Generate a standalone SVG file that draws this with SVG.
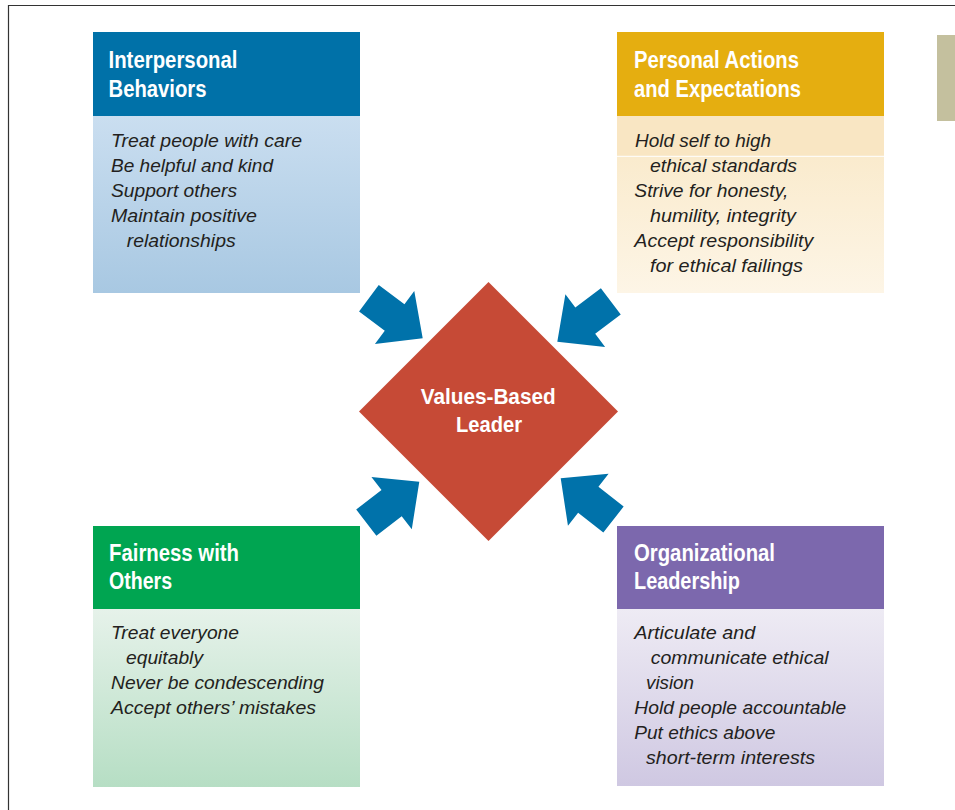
<svg xmlns="http://www.w3.org/2000/svg" width="955" height="810" viewBox="0 0 955 810">
<style>
.title{font-family:"Liberation Sans",Arial,sans-serif;font-weight:bold;font-size:23.5px;fill:#ffffff}
.ctitle{font-family:"Liberation Sans",Arial,sans-serif;font-weight:bold;font-size:22.5px;fill:#ffffff}
.body{font-family:"Liberation Sans",Arial,sans-serif;font-style:italic;font-size:19px;fill:#231f20}
.arrow{fill:#0072aa}
</style>
<defs>
<linearGradient id="gBlue" x1="0" y1="0" x2="0" y2="1"><stop offset="0" stop-color="#cadef0"/><stop offset="1" stop-color="#a8c8e2"/></linearGradient>
<linearGradient id="gOrange" x1="0" y1="0" x2="0" y2="1"><stop offset="0" stop-color="#f9e8c6"/><stop offset="1" stop-color="#fdf5e6"/></linearGradient>
<linearGradient id="gGreen" x1="0" y1="0" x2="0" y2="1"><stop offset="0" stop-color="#e6f2ea"/><stop offset="1" stop-color="#b6dec4"/></linearGradient>
<linearGradient id="gPurple" x1="0" y1="0" x2="0" y2="1"><stop offset="0" stop-color="#eeebf4"/><stop offset="1" stop-color="#cfc8e2"/></linearGradient>
<polygon id="arr" points="0,0 -35,-33 -35,-16.5 -67,-16.5 -67,16.5 -35,16.5 -35,33"/>
</defs>
<rect width="955" height="810" fill="#ffffff"/>
<path d="M8.5,810 V5.5 H955" fill="none" stroke="#333333" stroke-width="1.2"/>
<rect x="937" y="35" width="18" height="86" fill="#c4c09e"/>

<g id="interpersonal">
<rect x="93" y="32" width="267" height="84" fill="#0071a8"/>
<rect x="93" y="116" width="267" height="177" fill="url(#gBlue)"/>
<text class="title" x="108.5" y="68.3" textLength="129" lengthAdjust="spacingAndGlyphs">Interpersonal</text>
<text class="title" x="108.5" y="96.7" textLength="98" lengthAdjust="spacingAndGlyphs">Behaviors</text>
<text class="body" x="111" y="146.7" textLength="191" lengthAdjust="spacingAndGlyphs">Treat people with care</text>
<text class="body" x="111" y="171.7" textLength="162" lengthAdjust="spacingAndGlyphs">Be helpful and kind</text>
<text class="body" x="111" y="196.7" textLength="126" lengthAdjust="spacingAndGlyphs">Support others</text>
<text class="body" x="111" y="221.7" textLength="146" lengthAdjust="spacingAndGlyphs">Maintain positive</text>
<text class="body" x="126.7" y="246.7" textLength="109" lengthAdjust="spacingAndGlyphs">relationships</text>
</g>

<g id="personal">
<rect x="617" y="32" width="267" height="84" fill="#e5ae10"/>
<rect x="617" y="116" width="267" height="177" fill="url(#gOrange)"/>
<rect x="617" y="116" width="267" height="40" fill="#f9e6c3"/>
<line x1="617" y1="156.3" x2="884" y2="156.3" stroke="#ffffff" stroke-width="1"/>
<text class="title" x="634" y="68.3" textLength="165" lengthAdjust="spacingAndGlyphs">Personal Actions</text>
<text class="title" x="634" y="96.7" textLength="167" lengthAdjust="spacingAndGlyphs">and Expectations</text>
<text class="body" x="635" y="146.7" textLength="136" lengthAdjust="spacingAndGlyphs">Hold self to high</text>
<text class="body" x="650" y="172.3" textLength="147" lengthAdjust="spacingAndGlyphs">ethical standards</text>
<text class="body" x="634.3" y="197.3" textLength="154" lengthAdjust="spacingAndGlyphs">Strive for honesty,</text>
<text class="body" x="650" y="222.3" textLength="146" lengthAdjust="spacingAndGlyphs">humility, integrity</text>
<text class="body" x="634.3" y="247.3" textLength="179" lengthAdjust="spacingAndGlyphs">Accept responsibility</text>
<text class="body" x="650" y="272.3" textLength="153" lengthAdjust="spacingAndGlyphs">for ethical failings</text>
</g>

<g id="fairness">
<rect x="93" y="526" width="267" height="83" fill="#00a551"/>
<rect x="93" y="609" width="267" height="178" fill="url(#gGreen)"/>
<text class="title" x="109" y="560.7" textLength="130" lengthAdjust="spacingAndGlyphs">Fairness with</text>
<text class="title" x="109" y="589" textLength="63" lengthAdjust="spacingAndGlyphs">Others</text>
<text class="body" x="111" y="639.3" textLength="128" lengthAdjust="spacingAndGlyphs">Treat everyone</text>
<text class="body" x="126" y="664.3" textLength="77" lengthAdjust="spacingAndGlyphs">equitably</text>
<text class="body" x="111" y="689.3" textLength="213" lengthAdjust="spacingAndGlyphs">Never be condescending</text>
<text class="body" x="111" y="714.3" textLength="205" lengthAdjust="spacingAndGlyphs">Accept others’ mistakes</text>
</g>

<g id="organizational">
<rect x="617" y="526" width="267" height="83" fill="#7c68ad"/>
<rect x="617" y="609" width="267" height="177" fill="url(#gPurple)"/>
<text class="title" x="634" y="560.7" textLength="141" lengthAdjust="spacingAndGlyphs">Organizational</text>
<text class="title" x="634" y="589" textLength="106" lengthAdjust="spacingAndGlyphs">Leadership</text>
<text class="body" x="634.3" y="639.3" textLength="121" lengthAdjust="spacingAndGlyphs">Articulate and</text>
<text class="body" x="650.7" y="664.3" textLength="178" lengthAdjust="spacingAndGlyphs">communicate ethical</text>
<text class="body" x="646" y="689.3" textLength="48" lengthAdjust="spacingAndGlyphs">vision</text>
<text class="body" x="634.3" y="714.3" textLength="212" lengthAdjust="spacingAndGlyphs">Hold people accountable</text>
<text class="body" x="634.3" y="739.3" textLength="141" lengthAdjust="spacingAndGlyphs">Put ethics above</text>
<text class="body" x="646" y="764.3" textLength="169" lengthAdjust="spacingAndGlyphs">short-term interests</text>
</g>

<g id="center">
<polygon points="488.5,282 618,411.5 488.5,541 359,411.5" fill="#c64a36"/>
<text class="ctitle" x="420.7" y="404.3" textLength="135" lengthAdjust="spacingAndGlyphs">Values-Based</text>
<text class="ctitle" x="456" y="432.3" textLength="66" lengthAdjust="spacingAndGlyphs">Leader</text>
</g>

<g id="connectors" class="arrow">
<use href="#arr" transform="translate(422.7,338.3) rotate(36.6)"/>
<use href="#arr" transform="translate(557.3,341.7) rotate(143)"/>
<use href="#arr" transform="translate(419.3,481.7) rotate(-37.7)"/>
<use href="#arr" transform="translate(560.7,478.3) rotate(-142)"/>
</g>
</svg>
